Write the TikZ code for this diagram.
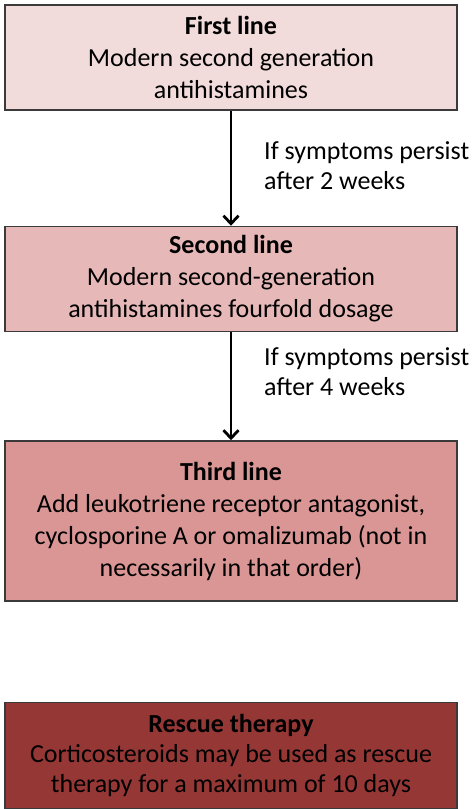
\documentclass[tikz,border=0pt]{standalone}
\usepackage{fontspec}
\setmainfont{Carlito}
\usepackage{xcolor}
\usepackage{tikz}
\usetikzlibrary{positioning, arrows.meta}

\definecolor{firstfill}{HTML}{F2DCDB}
\definecolor{secondfill}{HTML}{E6B9B8}
\definecolor{thirdfill}{HTML}{D99694}
\definecolor{rescuefill}{HTML}{953735}
\definecolor{boxline}{HTML}{3A3A3A}

\begin{document}
\begin{tikzpicture}[
  x=1pt, y=-1pt,
  every node/.style={font=\fontsize{26}{32}\selectfont},
  linebox/.style={
    rectangle, draw=boxline, line width=1.5pt,
    minimum width=452pt, align=center, inner sep=0pt
  },
  flow/.style={-{Straight Barb[length=8pt,width=15pt]}, line width=2.8pt},
  note/.style={align=left, anchor=west, inner sep=0pt,
    font=\fontsize{26}{30}\selectfont}
]
\useasboundingbox (0,0) rectangle (474,809);

\node[linebox, fill=firstfill, minimum height=105pt] (first) at (231,57.5)
  {\textbf{First line}\\ Modern second generation\\ antihistamines};
\node[linebox, fill=secondfill, minimum height=105pt, below=115pt of first] (second)
  {\textbf{Second line}\\ Modern second-generation\\ antihistamines fourfold dosage};
\node[linebox, fill=thirdfill, minimum height=160pt, below=108pt of second] (third)
  {\textbf{Third line}\\ Add leukotriene receptor antagonist,\\ cyclosporine A or omalizumab (not in\\ necessarily in that order)};
\node[linebox, fill=rescuefill, minimum height=106pt, below=100pt of third,
  font=\fontsize{26}{30}\selectfont] (rescue)
  {\textbf{Rescue therapy}\\ Corticosteroids may be used as rescue\\ therapy for a maximum of 10 days};

% arrows between the lines of treatment
\draw[flow] (first) -- (second);
\draw[flow] (second) -- (third);

\node[note] (wait1) at (264,166) {If symptoms persist\\ after 2 weeks};
\node[note] (wait2) at (264,372) {If symptoms persist\\ after 4 weeks};
\end{tikzpicture}
\end{document}
